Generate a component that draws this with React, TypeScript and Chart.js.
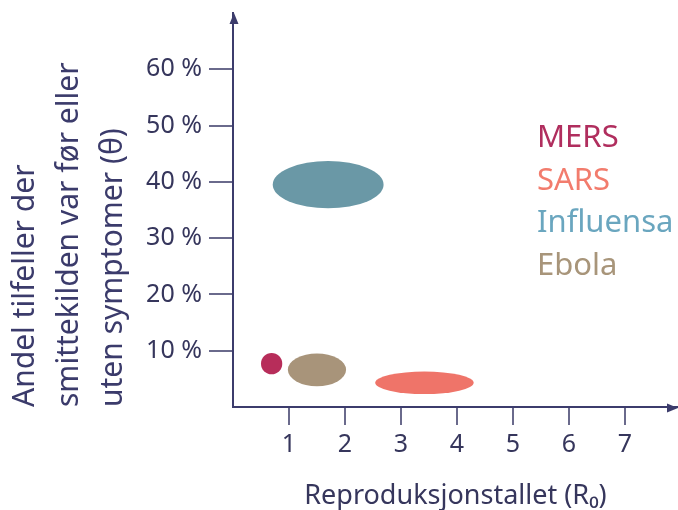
import { useEffect, useRef } from 'react';
import { Chart, registerables } from 'chart.js';

Chart.register(...registerables);

const diseases = ['MERS', 'SARS', 'Influensa', 'Ebola'];
const r0Center = [0.69, 3.42, 1.7, 1.5];
const r0HalfRange = [0.19, 0.88, 0.99, 0.52];
const thetaCenter = [7.7, 4.3, 39.5, 6.6];
const thetaHalfRange = [1.9, 2.0, 4.2, 2.9];
const fillColors = ['#B72D5A', '#EF7469', '#6A98A6', '#A8947A'];
const legendColors = ['#B02E5E', '#F27C6D', '#6AA6BF', '#A8957A'];
const xTickValues = [1, 2, 3, 4, 5, 6, 7];
const yTickValues = [10, 20, 30, 40, 50, 60];
const xTitle = 'Reproduksjonstallet (R₀)';
const yTitle = ['Andel tilfeller der', 'smittekilden var før eller', 'uten symptomer (θ)'];

const FONT = "'Noto Sans', 'Open Sans', sans-serif";
const AXIS = '#3c3c6c';
const TICK = '#6a6a8c';
const TEXT = '#36365c';

const ellipsePlugin = {
  id: 'ellipses',
  beforeDatasetsDraw(chart: any) {
    const { ctx } = chart;
    const xs = chart.scales.x;
    const ys = chart.scales.y;
    chart.data.datasets.forEach((ds: any) => {
      const p = ds.data[0];
      const cx = xs.getPixelForValue(p.x);
      const cy = ys.getPixelForValue(p.y);
      const rx = Math.abs(xs.getPixelForValue(p.x + ds.rx) - cx);
      const ry = Math.abs(ys.getPixelForValue(p.y + ds.ry) - cy);
      ctx.save();
      ctx.fillStyle = ds.backgroundColor;
      ctx.beginPath();
      ctx.ellipse(cx, cy, rx, ry, 0, 0, Math.PI * 2);
      ctx.fill();
      ctx.restore();
    });
  },
};

const decorPlugin = {
  id: 'decor',
  afterDraw(chart: any) {
    const { ctx, chartArea } = chart;
    const left = chartArea.left + 1;
    const bottom = chartArea.bottom + 1;
    ctx.save();
    ctx.fillStyle = AXIS;
    // y arrow
    ctx.beginPath();
    ctx.moveTo(left, chartArea.top);
    ctx.lineTo(left - 4.5, chartArea.top + 11);
    ctx.lineTo(left + 4.5, chartArea.top + 11);
    ctx.closePath();
    ctx.fill();
    // x arrow
    ctx.beginPath();
    ctx.moveTo(chartArea.right, bottom);
    ctx.lineTo(chartArea.right - 11, bottom - 4.5);
    ctx.lineTo(chartArea.right - 11, bottom + 4.5);
    ctx.closePath();
    ctx.fill();
    // legend
    ctx.font = `31px ${FONT}`;
    ctx.textAlign = 'left';
    ctx.textBaseline = 'alphabetic';
    diseases.forEach((d, i) => {
      ctx.fillStyle = legendColors[i];
      ctx.fillText(d, 537, 147 + i * 42.5);
    });
    ctx.restore();
  },
};

export default function App() {
  const ref = useRef<HTMLCanvasElement | null>(null);

  useEffect(() => {
    if (!ref.current) return;
    Chart.defaults.font.family = FONT;
    const chart = new Chart(ref.current, {
      type: 'scatter',
      data: {
        datasets: diseases.map((d, i) => ({
          label: d,
          data: [{ x: r0Center[i], y: thetaCenter[i] }],
          rx: r0HalfRange[i],
          ry: thetaHalfRange[i],
          backgroundColor: fillColors[i],
          pointRadius: 0,
          pointHoverRadius: 0,
        })) as any,
      },
      options: {
        animation: false,
        responsive: true,
        maintainAspectRatio: false,
        events: [],
        layout: { padding: { top: 13, right: 0, left: 0, bottom: 0 } },
        plugins: {
          legend: { display: false },
          tooltip: { enabled: false },
        },
        scales: {
          x: {
            type: 'linear',
            min: 0,
            max: 7.95,
            afterBuildTicks: (s: any) => {
              s.ticks = xTickValues.map((v) => ({ value: v }));
            },
            afterFit: (s: any) => {
              s.height = 103;
              s.paddingLeft = 0;
              s.paddingRight = 0;
            },
            ticks: {
              color: TEXT,
              font: { size: 25 },
              padding: 5,
              maxRotation: 0,
              callback: (v: any) => String(v),
            },
            grid: {
              display: true,
              drawOnChartArea: false,
              drawTicks: true,
              tickLength: 18,
              tickColor: TICK,
              tickWidth: 2,
              lineWidth: 2,
            },
            border: { display: true, color: AXIS, width: 2 },
            title: {
              display: true,
              text: xTitle,
              color: TEXT,
              font: { size: 27, lineHeight: 1 },
              padding: 0,
            },
          },
          y: {
            type: 'linear',
            min: 0,
            max: 70,
            afterBuildTicks: (s: any) => {
              s.ticks = yTickValues.map((v) => ({ value: v }));
            },
            afterFit: (s: any) => {
              s.width = 233;
              s.paddingTop = 0;
              s.paddingBottom = 0;
            },
            ticks: {
              color: TEXT,
              font: { size: 25 },
              padding: 7,
              callback: (v: any) => `${v} %`,
            },
            grid: {
              display: true,
              drawOnChartArea: false,
              drawTicks: true,
              tickLength: 24,
              tickColor: TICK,
              tickWidth: 2,
              lineWidth: 2,
            },
            border: { display: true, color: AXIS, width: 2 },
            title: {
              display: true,
              text: yTitle,
              align: 'start',
              color: '#3b3b6b',
              font: { size: 30, lineHeight: 44 / 30 },
              padding: { top: 3, bottom: 0 },
            },
          },
        },
      } as any,
      plugins: [ellipsePlugin, decorPlugin],
    });
    return () => chart.destroy();
  }, []);

  return (
    <div style={{ position: 'fixed', left: 0, top: 0, width: 678, height: 510, background: '#fff' }}>
      <canvas ref={ref} />
    </div>
  );
}
